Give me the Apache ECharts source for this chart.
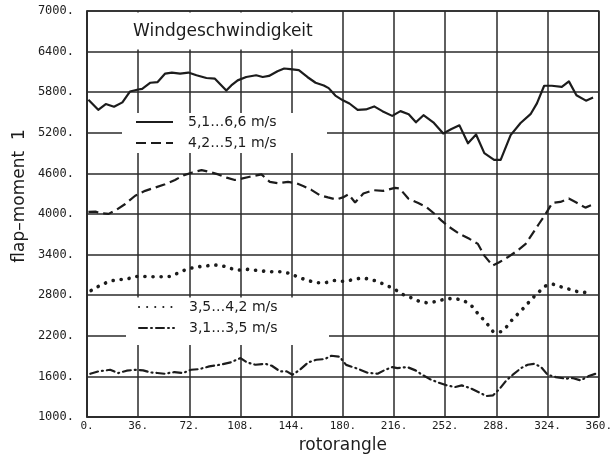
<!DOCTYPE html>
<html>
<head>
<meta charset="utf-8">
<style>
  html, body { margin: 0; padding: 0; background: #ffffff; }
  #chart { width: 615px; height: 461px; }
</style>
<script src="https://cdn.jsdelivr.net/npm/echarts@6/dist/echarts.min.js"></script>
</head>
<body>
<div id="chart"></div>
<script>
// Flap moment over rotor angle, one curve per wind speed class.
const xTicks = [0, 36, 72, 108, 144, 180, 216, 252, 288, 324, 360];
const yTicks = [1000, 1600, 2200, 2800, 3400, 4000, 4600, 5200, 5800, 6400, 7000];

const names = ['5,1…6,6 m/s', '4,2…5,1 m/s', '3,5…4,2 m/s', '3,1…3,5 m/s'];

// 5,1 ... 6,6 m/s
const angleHigh = [1, 7.9, 13.2, 19, 24.9, 30.2, 36, 38.8, 44.6, 49.7, 55, 59.7, 65.5, 71.3, 77, 84, 90, 93.4, 98, 101.5, 106, 112, 119, 123.6, 128, 134, 138.7, 143, 149, 155, 160.8, 166.6, 170, 174.7, 180, 184.6, 190.4, 196.2, 202, 207.8, 214.7, 220.5, 226.3, 231.4, 236.7, 243.6, 250.6, 256.4, 262, 268, 273.7, 279.5, 286.4, 291, 298, 305, 312, 316.5, 321.6, 327, 334, 339, 344.3, 351, 356];
const momentHigh = [5690, 5540, 5625, 5585, 5650, 5810, 5840, 5850, 5940, 5950, 6075, 6090, 6075, 6090, 6050, 6010, 6000, 5925, 5825, 5900, 5975, 6025, 6050, 6025, 6040, 6110, 6150, 6140, 6125, 6025, 5940, 5900, 5860, 5750, 5680, 5633, 5540, 5545, 5590, 5520, 5450, 5520, 5475, 5355, 5460, 5355, 5190, 5255, 5310, 5045, 5175, 4900, 4800, 4800, 5165, 5345, 5475, 5635, 5895, 5895, 5880, 5960, 5755, 5675, 5720];

// 4,2 ... 5,1 m/s
const angleMid = [1, 6, 10, 15.2, 21, 26.9, 33.9, 40.9, 47.9, 54.9, 61.9, 67.8, 73.6, 80.6, 86.5, 92.3, 98.2, 104, 108.7, 114.5, 122.7, 128.6, 134.4, 141.4, 147.3, 152, 157.8, 163.6, 169.5, 175.3, 180, 184, 188.6, 194.4, 201.4, 208.4, 216.6, 220, 226, 233, 238.7, 244.6, 249.2, 255, 262, 269, 275, 279.5, 285.3, 290, 295.9, 302.8, 308.6, 313.3, 318, 322.6, 327.3, 333, 338.9, 343.6, 350.6, 357.5];
const momentMid = [4030, 4035, 4010, 4002, 4065, 4148, 4270, 4342, 4391, 4440, 4503, 4571, 4610, 4649, 4620, 4585, 4537, 4503, 4522, 4551, 4585, 4474, 4454, 4474, 4454, 4415, 4357, 4279, 4245, 4215, 4245, 4290, 4170, 4302, 4352, 4342, 4387, 4377, 4228, 4163, 4104, 4000, 3906, 3806, 3707, 3633, 3558, 3385, 3236, 3286, 3360, 3459, 3558, 3707, 3856, 4000, 4163, 4178, 4228, 4178, 4094, 4154];

// 3,5 ... 4,2 m/s
const angleLow = [2.9, 8.6, 14.9, 21, 27.3, 33.5, 39.6, 45.9, 52.2, 58.7, 64.5, 70, 76.2, 82.5, 89, 94.8, 100.2, 105.8, 112.3, 118.1, 124.4, 130.5, 136.8, 142.6, 149.1, 155.4, 161.2, 167.8, 174, 180, 186.5, 192.8, 198.6, 204.4, 210.7, 216.7, 221.8, 227.6, 233.4, 239.2, 245.5, 252, 257.8, 264.1, 270, 273.4, 277, 281.5, 285.7, 291.5, 295.7, 299.6, 304.3, 308.9, 312.8, 317.5, 321.7, 327.5, 333.7, 339.8, 346, 352.3];
const momentLow = [2869, 2938, 2998, 3031, 3031, 3077, 3077, 3072, 3072, 3077, 3132, 3183, 3215, 3229, 3248, 3238, 3201, 3169, 3183, 3169, 3155, 3146, 3146, 3123, 3063, 3017, 2985, 2985, 3017, 3005, 3026, 3054, 3040, 3002, 2946, 2885, 2814, 2767, 2711, 2687, 2706, 2744, 2753, 2730, 2659, 2565, 2485, 2377, 2260, 2260, 2344, 2452, 2546, 2650, 2744, 2838, 2932, 2965, 2922, 2885, 2847, 2838];

// 3,1 ... 3,5 m/s
const angleMin = [2.3, 8.1, 16.3, 21.9, 27.9, 33.7, 39.5, 44.6, 49.5, 54.6, 61.5, 67.4, 73.2, 79, 86, 93.4, 101, 108, 112.6, 118.5, 125.4, 130, 135.9, 140.5, 144.5, 149.8, 155.6, 161.4, 167.2, 171.9, 177.7, 182.3, 190.5, 197.4, 204.4, 209, 214.8, 218.3, 225.3, 231.1, 235.7, 241.5, 247.4, 253.2, 259, 263.6, 269.4, 275.2, 281, 285.7, 290.3, 295, 299.6, 305.4, 310, 314.7, 319.4, 324, 329.8, 336.8, 341.5, 347.2, 353, 357.7];
const momentMin = [1639, 1674, 1698, 1649, 1684, 1698, 1689, 1659, 1650, 1639, 1664, 1649, 1698, 1708, 1748, 1772, 1807, 1871, 1807, 1772, 1787, 1757, 1674, 1674, 1625, 1698, 1807, 1846, 1856, 1905, 1890, 1770, 1713, 1654, 1639, 1689, 1738, 1723, 1738, 1689, 1625, 1556, 1507, 1467, 1443, 1467, 1428, 1369, 1310, 1320, 1418, 1541, 1625, 1723, 1772, 1787, 1738, 1625, 1590, 1566, 1576, 1541, 1605, 1639];

const zip = (xs, ys) => xs.map((x, i) => [x, ys[i]]);

const ink = '#1c1c1c';
const gridInk = '#2a2a2a';

const chart = echarts.init(document.getElementById('chart'), null, { renderer: 'canvas' });

const legendCommon = {
  orient: 'vertical',
  selectedMode: false,
  padding: 0,
  itemHeight: 14,
  itemGap: 7,
  // key entries show only the line sample, no marker
  itemStyle: { color: 'rgba(0,0,0,0)', borderColor: 'rgba(0,0,0,0)', borderWidth: 0 },
  textStyle: { color: ink, fontFamily: 'DejaVu Sans', fontSize: 14, padding: [0, 0, 0, 10] }
};

chart.setOption({
  backgroundColor: '#ffffff',
  animation: false,
  title: {
    text: 'Windgeschwindigkeit',
    left: 133,
    top: 23,
    padding: 0,
    textStyle: { color: ink, fontFamily: 'DejaVu Sans', fontSize: 17, fontWeight: 'normal' }
  },
  legend: [
    Object.assign({}, legendCommon, { left: 135, top: 115, itemWidth: 37, data: [names[0], names[1]] }),
    Object.assign({}, legendCommon, { left: 138, top: 300, itemWidth: 35, data: [names[2], names[3]] })
  ],
  grid: {
    left: 87, right: 13, top: 11, bottom: 44,
    show: true, borderColor: gridInk, borderWidth: 1.5, backgroundColor: 'transparent'
  },
  xAxis: {
    type: 'value',
    min: xTicks[0], max: xTicks[xTicks.length - 1], interval: 36,
    name: 'rotorangle', nameLocation: 'middle', nameGap: 14,
    nameTextStyle: { color: ink, fontFamily: 'DejaVu Sans', fontSize: 17, verticalAlign: 'top' },
    axisLine: { lineStyle: { color: gridInk, width: 1.5 } },
    axisTick: { show: false },
    axisLabel: { color: ink, fontFamily: 'DejaVu Sans Mono', fontSize: 11, margin: 4, formatter: v => v + '.' },
    splitLine: { show: true, lineStyle: { color: gridInk, width: 1.5 } }
  },
  yAxis: {
    type: 'value',
    min: yTicks[0], max: yTicks[yTicks.length - 1], interval: 600,
    axisLine: { show: true, lineStyle: { color: gridInk, width: 1.5 } },
    axisTick: { show: false },
    axisLabel: { color: ink, fontFamily: 'DejaVu Sans Mono', fontSize: 12, margin: 13, formatter: v => v + '.' },
    splitLine: { show: true, lineStyle: { color: gridInk, width: 1.5 } }
  },
  graphic: [
    // white panels behind the heading and the two key blocks
    { type: 'rect', z: 1, shape: { x: 89, y: 12.5, width: 241, height: 37 }, style: { fill: '#ffffff' }, silent: true },
    { type: 'rect', z: 1, shape: { x: 122, y: 113, width: 205, height: 40 }, style: { fill: '#ffffff' }, silent: true },
    { type: 'rect', z: 1, shape: { x: 126, y: 297.5, width: 203, height: 47.5 }, style: { fill: '#ffffff' }, silent: true },
    {
      type: 'text', z: 5, x: 20, y: 196, rotation: Math.PI / 2,
      style: { text: 'flap–moment  1', fill: ink, font: '17px "DejaVu Sans"', align: 'center', verticalAlign: 'middle' }
    }
  ],
  series: [
    {
      name: names[0], type: 'line', data: zip(angleHigh, momentHigh),
      symbol: 'none', lineStyle: { color: ink, width: 2.2, join: 'round' }, itemStyle: { color: ink }
    },
    {
      name: names[1], type: 'line', data: zip(angleMid, momentMid),
      symbol: 'none', lineStyle: { color: ink, width: 2.2, type: [10, 5] }, itemStyle: { color: ink }
    },
    {
      name: names[2], type: 'line', data: zip(angleLow, momentLow),
      symbol: 'none', lineStyle: { color: ink, width: 3.6, type: [0.1, 8], cap: 'round' }, itemStyle: { color: ink }
    },
    {
      name: names[3], type: 'line', data: zip(angleMin, momentMin),
      symbol: 'none', lineStyle: { color: ink, width: 2.2, type: [8, 4, 1, 4], cap: 'round' }, itemStyle: { color: ink }
    }
  ]
});
</script>
</body>
</html>
